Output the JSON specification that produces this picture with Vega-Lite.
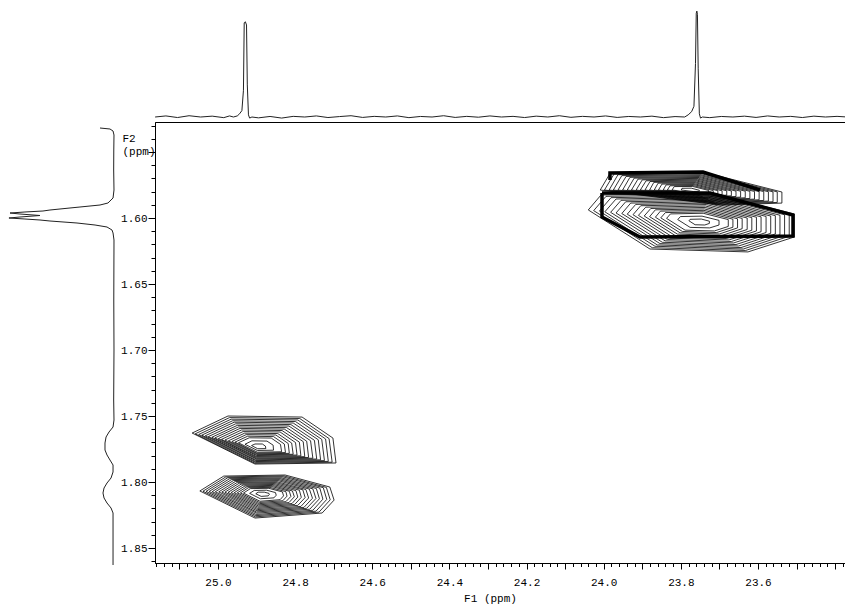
{
"$schema": "https://vega.github.io/schema/vega-lite/v6.json",
"width": 692, "height": 441,
"autosize": {"type": "none"},
"padding": {"left": 155, "top": 122, "right": 0, "bottom": 45},
"background": "white",
"config": {
  "view": {"stroke": "black", "strokeWidth": 1},
  "axis": {"domainColor": "black", "tickColor": "black", "labelColor": "black", "titleColor": "black", "labelFont": "Liberation Mono", "labelFontSize": 11, "titleFont": "Liberation Mono", "titleFontSize": 11, "titleFontWeight": "normal", "grid": false}
},
"datasets": {
"contours": [
{"c":"A1","x":25.067,"y":1.7629},{"c":"A1","x":24.974,"y":1.7500},{"c":"A1","x":24.782,"y":1.7508},{"c":"A1","x":24.702,"y":1.7667},{"c":"A1","x":24.694,"y":1.7856},{"c":"A1","x":24.904,"y":1.7864},{"c":"A1","x":25.067,"y":1.7629},
{"c":"A2","x":25.050,"y":1.7640},{"c":"A2","x":24.966,"y":1.7524},{"c":"A2","x":24.793,"y":1.7530},{"c":"A2","x":24.721,"y":1.7674},{"c":"A2","x":24.714,"y":1.7844},{"c":"A2","x":24.903,"y":1.7851},{"c":"A2","x":25.050,"y":1.7640},
{"c":"A3","x":25.033,"y":1.7650},{"c":"A3","x":24.958,"y":1.7547},{"c":"A3","x":24.805,"y":1.7553},{"c":"A3","x":24.740,"y":1.7680},{"c":"A3","x":24.734,"y":1.7832},{"c":"A3","x":24.902,"y":1.7838},{"c":"A3","x":25.033,"y":1.7650},
{"c":"A4","x":25.016,"y":1.7661},{"c":"A4","x":24.950,"y":1.7571},{"c":"A4","x":24.816,"y":1.7576},{"c":"A4","x":24.760,"y":1.7687},{"c":"A4","x":24.754,"y":1.7820},{"c":"A4","x":24.901,"y":1.7825},{"c":"A4","x":25.016,"y":1.7661},
{"c":"A5","x":24.999,"y":1.7671},{"c":"A5","x":24.943,"y":1.7594},{"c":"A5","x":24.828,"y":1.7599},{"c":"A5","x":24.779,"y":1.7694},{"c":"A5","x":24.775,"y":1.7808},{"c":"A5","x":24.901,"y":1.7812},{"c":"A5","x":24.999,"y":1.7671},
{"c":"A6","x":24.982,"y":1.7682},{"c":"A6","x":24.935,"y":1.7618},{"c":"A6","x":24.839,"y":1.7621},{"c":"A6","x":24.799,"y":1.7701},{"c":"A6","x":24.795,"y":1.7796},{"c":"A6","x":24.900,"y":1.7799},{"c":"A6","x":24.982,"y":1.7682},
{"c":"A7","x":24.964,"y":1.7693},{"c":"A7","x":24.927,"y":1.7641},{"c":"A7","x":24.850,"y":1.7644},{"c":"A7","x":24.818,"y":1.7708},{"c":"A7","x":24.815,"y":1.7783},{"c":"A7","x":24.899,"y":1.7787},{"c":"A7","x":24.964,"y":1.7693},
{"c":"A8","x":24.947,"y":1.7703},{"c":"A8","x":24.919,"y":1.7665},{"c":"A8","x":24.862,"y":1.7667},{"c":"A8","x":24.838,"y":1.7715},{"c":"A8","x":24.835,"y":1.7771},{"c":"A8","x":24.898,"y":1.7774},{"c":"A8","x":24.947,"y":1.7703},
{"c":"A9","x":24.930,"y":1.7714},{"c":"A9","x":24.912,"y":1.7688},{"c":"A9","x":24.873,"y":1.7690},{"c":"A9","x":24.857,"y":1.7721},{"c":"A9","x":24.856,"y":1.7759},{"c":"A9","x":24.898,"y":1.7761},{"c":"A9","x":24.930,"y":1.7714},
{"c":"A10","x":24.913,"y":1.7724},{"c":"A10","x":24.904,"y":1.7712},{"c":"A10","x":24.885,"y":1.7712},{"c":"A10","x":24.877,"y":1.7728},{"c":"A10","x":24.876,"y":1.7747},{"c":"A10","x":24.897,"y":1.7748},{"c":"A10","x":24.913,"y":1.7724},
{"c":"Ah1","x":25.059,"y":1.7635},{"c":"Ah1","x":24.970,"y":1.7512},{"c":"Ah1","x":24.788,"y":1.7519},{"c":"Ah1","x":24.712,"y":1.7671},{"c":"Ah1","x":24.704,"y":1.7850},{"c":"Ah1","x":24.904,"y":1.7858},{"c":"Ah1","x":25.059,"y":1.7635},
{"c":"Ah2","x":25.042,"y":1.7645},{"c":"Ah2","x":24.962,"y":1.7536},{"c":"Ah2","x":24.799,"y":1.7542},{"c":"Ah2","x":24.731,"y":1.7677},{"c":"Ah2","x":24.724,"y":1.7838},{"c":"Ah2","x":24.903,"y":1.7845},{"c":"Ah2","x":25.042,"y":1.7645},
{"c":"Ah3","x":25.025,"y":1.7656},{"c":"Ah3","x":24.954,"y":1.7559},{"c":"Ah3","x":24.811,"y":1.7565},{"c":"Ah3","x":24.750,"y":1.7684},{"c":"Ah3","x":24.744,"y":1.7826},{"c":"Ah3","x":24.902,"y":1.7832},{"c":"Ah3","x":25.025,"y":1.7656},
{"c":"Ah4","x":25.008,"y":1.7666},{"c":"Ah4","x":24.947,"y":1.7583},{"c":"Ah4","x":24.822,"y":1.7588},{"c":"Ah4","x":24.770,"y":1.7691},{"c":"Ah4","x":24.765,"y":1.7814},{"c":"Ah4","x":24.901,"y":1.7819},{"c":"Ah4","x":25.008,"y":1.7666},
{"c":"Ah5","x":24.991,"y":1.7677},{"c":"Ah5","x":24.939,"y":1.7606},{"c":"Ah5","x":24.834,"y":1.7610},{"c":"Ah5","x":24.789,"y":1.7698},{"c":"Ah5","x":24.785,"y":1.7802},{"c":"Ah5","x":24.901,"y":1.7806},{"c":"Ah5","x":24.991,"y":1.7677},
{"c":"Ah6","x":24.973,"y":1.7688},{"c":"Ah6","x":24.931,"y":1.7630},{"c":"Ah6","x":24.845,"y":1.7633},{"c":"Ah6","x":24.809,"y":1.7705},{"c":"Ah6","x":24.805,"y":1.7790},{"c":"Ah6","x":24.900,"y":1.7793},{"c":"Ah6","x":24.973,"y":1.7688},
{"c":"Ah7","x":24.956,"y":1.7698},{"c":"Ah7","x":24.923,"y":1.7653},{"c":"Ah7","x":24.856,"y":1.7656},{"c":"Ah7","x":24.828,"y":1.7712},{"c":"Ah7","x":24.825,"y":1.7777},{"c":"Ah7","x":24.899,"y":1.7781},{"c":"Ah7","x":24.956,"y":1.7698},
{"c":"B1","x":25.047,"y":1.8068},{"c":"B1","x":24.985,"y":1.7955},{"c":"B1","x":24.826,"y":1.7947},{"c":"B1","x":24.710,"y":1.8038},{"c":"B1","x":24.699,"y":1.8137},{"c":"B1","x":24.730,"y":1.8235},{"c":"B1","x":24.904,"y":1.8273},{"c":"B1","x":25.047,"y":1.8068},
{"c":"B2","x":25.031,"y":1.8071},{"c":"B2","x":24.975,"y":1.7968},{"c":"B2","x":24.832,"y":1.7961},{"c":"B2","x":24.727,"y":1.8043},{"c":"B2","x":24.718,"y":1.8132},{"c":"B2","x":24.746,"y":1.8221},{"c":"B2","x":24.902,"y":1.8255},{"c":"B2","x":25.031,"y":1.8071},
{"c":"B3","x":25.015,"y":1.8073},{"c":"B3","x":24.965,"y":1.7982},{"c":"B3","x":24.838,"y":1.7976},{"c":"B3","x":24.745,"y":1.8049},{"c":"B3","x":24.737,"y":1.8127},{"c":"B3","x":24.762,"y":1.8206},{"c":"B3","x":24.900,"y":1.8236},{"c":"B3","x":25.015,"y":1.8073},
{"c":"B4","x":24.998,"y":1.8075},{"c":"B4","x":24.955,"y":1.7996},{"c":"B4","x":24.844,"y":1.7990},{"c":"B4","x":24.763,"y":1.8054},{"c":"B4","x":24.755,"y":1.8123},{"c":"B4","x":24.777,"y":1.8192},{"c":"B4","x":24.899,"y":1.8218},{"c":"B4","x":24.998,"y":1.8075},
{"c":"B5","x":24.982,"y":1.8077},{"c":"B5","x":24.945,"y":1.8009},{"c":"B5","x":24.850,"y":1.8005},{"c":"B5","x":24.780,"y":1.8059},{"c":"B5","x":24.774,"y":1.8118},{"c":"B5","x":24.793,"y":1.8177},{"c":"B5","x":24.897,"y":1.8200},{"c":"B5","x":24.982,"y":1.8077},
{"c":"B6","x":24.966,"y":1.8080},{"c":"B6","x":24.935,"y":1.8023},{"c":"B6","x":24.856,"y":1.8019},{"c":"B6","x":24.798,"y":1.8065},{"c":"B6","x":24.793,"y":1.8114},{"c":"B6","x":24.808,"y":1.8163},{"c":"B6","x":24.895,"y":1.8182},{"c":"B6","x":24.966,"y":1.8080},
{"c":"B7","x":24.950,"y":1.8082},{"c":"B7","x":24.925,"y":1.8036},{"c":"B7","x":24.862,"y":1.8033},{"c":"B7","x":24.815,"y":1.8070},{"c":"B7","x":24.811,"y":1.8109},{"c":"B7","x":24.824,"y":1.8149},{"c":"B7","x":24.893,"y":1.8164},{"c":"B7","x":24.950,"y":1.8082},
{"c":"B8","x":24.934,"y":1.8084},{"c":"B8","x":24.916,"y":1.8050},{"c":"B8","x":24.868,"y":1.8048},{"c":"B8","x":24.833,"y":1.8075},{"c":"B8","x":24.830,"y":1.8105},{"c":"B8","x":24.839,"y":1.8134},{"c":"B8","x":24.891,"y":1.8146},{"c":"B8","x":24.934,"y":1.8084},
{"c":"B9","x":24.918,"y":1.8086},{"c":"B9","x":24.906,"y":1.8064},{"c":"B9","x":24.874,"y":1.8062},{"c":"B9","x":24.851,"y":1.8080},{"c":"B9","x":24.849,"y":1.8100},{"c":"B9","x":24.855,"y":1.8120},{"c":"B9","x":24.890,"y":1.8127},{"c":"B9","x":24.918,"y":1.8086},
{"c":"B10","x":24.902,"y":1.8089},{"c":"B10","x":24.896,"y":1.8077},{"c":"B10","x":24.880,"y":1.8077},{"c":"B10","x":24.868,"y":1.8086},{"c":"B10","x":24.867,"y":1.8096},{"c":"B10","x":24.870,"y":1.8105},{"c":"B10","x":24.888,"y":1.8109},{"c":"B10","x":24.902,"y":1.8089},
{"c":"Bh1","x":25.039,"y":1.8070},{"c":"Bh1","x":24.980,"y":1.7962},{"c":"Bh1","x":24.829,"y":1.7954},{"c":"Bh1","x":24.719,"y":1.8041},{"c":"Bh1","x":24.709,"y":1.8135},{"c":"Bh1","x":24.738,"y":1.8228},{"c":"Bh1","x":24.903,"y":1.8264},{"c":"Bh1","x":25.039,"y":1.8070},
{"c":"Bh2","x":25.023,"y":1.8072},{"c":"Bh2","x":24.970,"y":1.7975},{"c":"Bh2","x":24.835,"y":1.7969},{"c":"Bh2","x":24.736,"y":1.8046},{"c":"Bh2","x":24.728,"y":1.8130},{"c":"Bh2","x":24.754,"y":1.8214},{"c":"Bh2","x":24.901,"y":1.8246},{"c":"Bh2","x":25.023,"y":1.8072},
{"c":"Bh3","x":25.007,"y":1.8074},{"c":"Bh3","x":24.960,"y":1.7989},{"c":"Bh3","x":24.841,"y":1.7983},{"c":"Bh3","x":24.754,"y":1.8052},{"c":"Bh3","x":24.746,"y":1.8125},{"c":"Bh3","x":24.770,"y":1.8199},{"c":"Bh3","x":24.900,"y":1.8227},{"c":"Bh3","x":25.007,"y":1.8074},
{"c":"Bh4","x":24.990,"y":1.8076},{"c":"Bh4","x":24.950,"y":1.8003},{"c":"Bh4","x":24.847,"y":1.7998},{"c":"Bh4","x":24.772,"y":1.8057},{"c":"Bh4","x":24.765,"y":1.8121},{"c":"Bh4","x":24.785,"y":1.8185},{"c":"Bh4","x":24.898,"y":1.8209},{"c":"Bh4","x":24.990,"y":1.8076},
{"c":"Bh5","x":24.974,"y":1.8079},{"c":"Bh5","x":24.940,"y":1.8016},{"c":"Bh5","x":24.853,"y":1.8012},{"c":"Bh5","x":24.789,"y":1.8062},{"c":"Bh5","x":24.784,"y":1.8116},{"c":"Bh5","x":24.801,"y":1.8170},{"c":"Bh5","x":24.896,"y":1.8191},{"c":"Bh5","x":24.974,"y":1.8079},
{"c":"Bh6","x":24.958,"y":1.8081},{"c":"Bh6","x":24.930,"y":1.8030},{"c":"Bh6","x":24.859,"y":1.8026},{"c":"Bh6","x":24.807,"y":1.8068},{"c":"Bh6","x":24.802,"y":1.8112},{"c":"Bh6","x":24.816,"y":1.8156},{"c":"Bh6","x":24.894,"y":1.8173},{"c":"Bh6","x":24.958,"y":1.8081},
{"c":"Bh7","x":24.942,"y":1.8083},{"c":"Bh7","x":24.921,"y":1.8043},{"c":"Bh7","x":24.865,"y":1.8041},{"c":"Bh7","x":24.824,"y":1.8073},{"c":"Bh7","x":24.821,"y":1.8107},{"c":"Bh7","x":24.832,"y":1.8142},{"c":"Bh7","x":24.892,"y":1.8155},{"c":"Bh7","x":24.942,"y":1.8083},
{"c":"C1","x":24.009,"y":1.5788},{"c":"C1","x":23.983,"y":1.5659},{"c":"C1","x":23.742,"y":1.5652},{"c":"C1","x":23.538,"y":1.5803},{"c":"C1","x":23.538,"y":1.5887},{"c":"C1","x":23.698,"y":1.5902},{"c":"C1","x":24.009,"y":1.5788},
{"c":"C2","x":23.986,"y":1.5788},{"c":"C2","x":23.963,"y":1.5672},{"c":"C2","x":23.746,"y":1.5665},{"c":"C2","x":23.561,"y":1.5802},{"c":"C2","x":23.561,"y":1.5877},{"c":"C2","x":23.706,"y":1.5890},{"c":"C2","x":23.986,"y":1.5788},
{"c":"C3","x":23.963,"y":1.5788},{"c":"C3","x":23.942,"y":1.5685},{"c":"C3","x":23.749,"y":1.5679},{"c":"C3","x":23.585,"y":1.5800},{"c":"C3","x":23.585,"y":1.5867},{"c":"C3","x":23.714,"y":1.5879},{"c":"C3","x":23.963,"y":1.5788},
{"c":"C4","x":23.939,"y":1.5788},{"c":"C4","x":23.921,"y":1.5698},{"c":"C4","x":23.752,"y":1.5693},{"c":"C4","x":23.609,"y":1.5799},{"c":"C4","x":23.609,"y":1.5857},{"c":"C4","x":23.722,"y":1.5868},{"c":"C4","x":23.939,"y":1.5788},
{"c":"C5","x":23.916,"y":1.5788},{"c":"C5","x":23.900,"y":1.5711},{"c":"C5","x":23.756,"y":1.5706},{"c":"C5","x":23.633,"y":1.5797},{"c":"C5","x":23.633,"y":1.5847},{"c":"C5","x":23.729,"y":1.5856},{"c":"C5","x":23.916,"y":1.5788},
{"c":"C6","x":23.893,"y":1.5788},{"c":"C6","x":23.880,"y":1.5724},{"c":"C6","x":23.759,"y":1.5720},{"c":"C6","x":23.657,"y":1.5796},{"c":"C6","x":23.657,"y":1.5837},{"c":"C6","x":23.737,"y":1.5845},{"c":"C6","x":23.893,"y":1.5788},
{"c":"C7","x":23.869,"y":1.5788},{"c":"C7","x":23.859,"y":1.5736},{"c":"C7","x":23.763,"y":1.5733},{"c":"C7","x":23.681,"y":1.5794},{"c":"C7","x":23.681,"y":1.5827},{"c":"C7","x":23.745,"y":1.5833},{"c":"C7","x":23.869,"y":1.5788},
{"c":"C8","x":23.846,"y":1.5788},{"c":"C8","x":23.838,"y":1.5749},{"c":"C8","x":23.766,"y":1.5747},{"c":"C8","x":23.704,"y":1.5793},{"c":"C8","x":23.704,"y":1.5818},{"c":"C8","x":23.753,"y":1.5822},{"c":"C8","x":23.846,"y":1.5788},
{"c":"C9","x":23.823,"y":1.5788},{"c":"C9","x":23.817,"y":1.5762},{"c":"C9","x":23.769,"y":1.5761},{"c":"C9","x":23.728,"y":1.5791},{"c":"C9","x":23.728,"y":1.5808},{"c":"C9","x":23.760,"y":1.5811},{"c":"C9","x":23.823,"y":1.5788},
{"c":"C10","x":23.799,"y":1.5788},{"c":"C10","x":23.797,"y":1.5775},{"c":"C10","x":23.773,"y":1.5774},{"c":"C10","x":23.752,"y":1.5790},{"c":"C10","x":23.752,"y":1.5798},{"c":"C10","x":23.768,"y":1.5799},{"c":"C10","x":23.799,"y":1.5788},
{"c":"Ch1","x":23.998,"y":1.5788},{"c":"Ch1","x":23.973,"y":1.5666},{"c":"Ch1","x":23.744,"y":1.5659},{"c":"Ch1","x":23.550,"y":1.5802},{"c":"Ch1","x":23.550,"y":1.5882},{"c":"Ch1","x":23.702,"y":1.5896},{"c":"Ch1","x":23.998,"y":1.5788},
{"c":"Ch2","x":23.975,"y":1.5788},{"c":"Ch2","x":23.953,"y":1.5679},{"c":"Ch2","x":23.748,"y":1.5672},{"c":"Ch2","x":23.573,"y":1.5801},{"c":"Ch2","x":23.573,"y":1.5872},{"c":"Ch2","x":23.710,"y":1.5885},{"c":"Ch2","x":23.975,"y":1.5788},
{"c":"Ch3","x":23.951,"y":1.5788},{"c":"Ch3","x":23.932,"y":1.5692},{"c":"Ch3","x":23.751,"y":1.5686},{"c":"Ch3","x":23.597,"y":1.5800},{"c":"Ch3","x":23.597,"y":1.5862},{"c":"Ch3","x":23.718,"y":1.5874},{"c":"Ch3","x":23.951,"y":1.5788},
{"c":"Ch4","x":23.928,"y":1.5788},{"c":"Ch4","x":23.911,"y":1.5705},{"c":"Ch4","x":23.754,"y":1.5700},{"c":"Ch4","x":23.621,"y":1.5798},{"c":"Ch4","x":23.621,"y":1.5852},{"c":"Ch4","x":23.726,"y":1.5862},{"c":"Ch4","x":23.928,"y":1.5788},
{"c":"Ch5","x":23.905,"y":1.5788},{"c":"Ch5","x":23.890,"y":1.5718},{"c":"Ch5","x":23.758,"y":1.5713},{"c":"Ch5","x":23.645,"y":1.5797},{"c":"Ch5","x":23.645,"y":1.5842},{"c":"Ch5","x":23.733,"y":1.5851},{"c":"Ch5","x":23.905,"y":1.5788},
{"c":"Ch6","x":23.881,"y":1.5788},{"c":"Ch6","x":23.870,"y":1.5730},{"c":"Ch6","x":23.761,"y":1.5727},{"c":"Ch6","x":23.669,"y":1.5795},{"c":"Ch6","x":23.669,"y":1.5832},{"c":"Ch6","x":23.741,"y":1.5839},{"c":"Ch6","x":23.881,"y":1.5788},
{"c":"Ch7","x":23.858,"y":1.5788},{"c":"Ch7","x":23.849,"y":1.5743},{"c":"Ch7","x":23.765,"y":1.5740},{"c":"Ch7","x":23.693,"y":1.5794},{"c":"Ch7","x":23.693,"y":1.5823},{"c":"Ch7","x":23.749,"y":1.5828},{"c":"Ch7","x":23.858,"y":1.5788},
{"c":"Ch8","x":23.835,"y":1.5788},{"c":"Ch8","x":23.828,"y":1.5756},{"c":"Ch8","x":23.768,"y":1.5754},{"c":"Ch8","x":23.716,"y":1.5792},{"c":"Ch8","x":23.716,"y":1.5813},{"c":"Ch8","x":23.757,"y":1.5817},{"c":"Ch8","x":23.835,"y":1.5788},
{"c":"D1","x":24.040,"y":1.5939},{"c":"D1","x":24.007,"y":1.5826},{"c":"D1","x":23.724,"y":1.5810},{"c":"D1","x":23.506,"y":1.5969},{"c":"D1","x":23.506,"y":1.6144},{"c":"D1","x":23.626,"y":1.6257},{"c":"D1","x":23.880,"y":1.6235},{"c":"D1","x":24.040,"y":1.5939},
{"c":"D2","x":24.011,"y":1.5948},{"c":"D2","x":23.981,"y":1.5846},{"c":"D2","x":23.727,"y":1.5832},{"c":"D2","x":23.531,"y":1.5975},{"c":"D2","x":23.531,"y":1.6132},{"c":"D2","x":23.638,"y":1.6235},{"c":"D2","x":23.867,"y":1.6214},{"c":"D2","x":24.011,"y":1.5948},
{"c":"D3","x":23.982,"y":1.5957},{"c":"D3","x":23.955,"y":1.5866},{"c":"D3","x":23.729,"y":1.5854},{"c":"D3","x":23.555,"y":1.5982},{"c":"D3","x":23.555,"y":1.6121},{"c":"D3","x":23.650,"y":1.6212},{"c":"D3","x":23.854,"y":1.6194},{"c":"D3","x":23.982,"y":1.5957},
{"c":"D4","x":23.953,"y":1.5966},{"c":"D4","x":23.930,"y":1.5887},{"c":"D4","x":23.732,"y":1.5876},{"c":"D4","x":23.579,"y":1.5988},{"c":"D4","x":23.579,"y":1.6110},{"c":"D4","x":23.663,"y":1.6189},{"c":"D4","x":23.841,"y":1.6173},{"c":"D4","x":23.953,"y":1.5966},
{"c":"D5","x":23.924,"y":1.5975},{"c":"D5","x":23.904,"y":1.5907},{"c":"D5","x":23.734,"y":1.5898},{"c":"D5","x":23.604,"y":1.5994},{"c":"D5","x":23.604,"y":1.6098},{"c":"D5","x":23.675,"y":1.6166},{"c":"D5","x":23.828,"y":1.6153},{"c":"D5","x":23.924,"y":1.5975},
{"c":"D6","x":23.895,"y":1.5985},{"c":"D6","x":23.878,"y":1.5928},{"c":"D6","x":23.737,"y":1.5920},{"c":"D6","x":23.628,"y":1.6000},{"c":"D6","x":23.628,"y":1.6087},{"c":"D6","x":23.688,"y":1.6144},{"c":"D6","x":23.815,"y":1.6132},{"c":"D6","x":23.895,"y":1.5985},
{"c":"D7","x":23.866,"y":1.5994},{"c":"D7","x":23.853,"y":1.5948},{"c":"D7","x":23.740,"y":1.5942},{"c":"D7","x":23.653,"y":1.6006},{"c":"D7","x":23.653,"y":1.6075},{"c":"D7","x":23.700,"y":1.6121},{"c":"D7","x":23.802,"y":1.6112},{"c":"D7","x":23.866,"y":1.5994},
{"c":"D8","x":23.837,"y":1.6003},{"c":"D8","x":23.827,"y":1.5969},{"c":"D8","x":23.742,"y":1.5964},{"c":"D8","x":23.677,"y":1.6012},{"c":"D8","x":23.677,"y":1.6064},{"c":"D8","x":23.713,"y":1.6098},{"c":"D8","x":23.789,"y":1.6092},{"c":"D8","x":23.837,"y":1.6003},
{"c":"D9","x":23.808,"y":1.6012},{"c":"D9","x":23.801,"y":1.5989},{"c":"D9","x":23.745,"y":1.5986},{"c":"D9","x":23.701,"y":1.6018},{"c":"D9","x":23.701,"y":1.6053},{"c":"D9","x":23.725,"y":1.6075},{"c":"D9","x":23.776,"y":1.6071},{"c":"D9","x":23.808,"y":1.6012},
{"c":"D10","x":23.779,"y":1.6021},{"c":"D10","x":23.776,"y":1.6010},{"c":"D10","x":23.747,"y":1.6008},{"c":"D10","x":23.726,"y":1.6024},{"c":"D10","x":23.726,"y":1.6041},{"c":"D10","x":23.738,"y":1.6053},{"c":"D10","x":23.763,"y":1.6051},{"c":"D10","x":23.779,"y":1.6021},
{"c":"Dh1","x":24.026,"y":1.5944},{"c":"Dh1","x":23.994,"y":1.5836},{"c":"Dh1","x":23.726,"y":1.5821},{"c":"Dh1","x":23.519,"y":1.5972},{"c":"Dh1","x":23.519,"y":1.6138},{"c":"Dh1","x":23.632,"y":1.6246},{"c":"Dh1","x":23.874,"y":1.6225},{"c":"Dh1","x":24.026,"y":1.5944},
{"c":"Dh2","x":23.997,"y":1.5953},{"c":"Dh2","x":23.968,"y":1.5856},{"c":"Dh2","x":23.728,"y":1.5843},{"c":"Dh2","x":23.543,"y":1.5979},{"c":"Dh2","x":23.543,"y":1.6127},{"c":"Dh2","x":23.644,"y":1.6224},{"c":"Dh2","x":23.861,"y":1.6204},{"c":"Dh2","x":23.997,"y":1.5953},
{"c":"Dh3","x":23.968,"y":1.5962},{"c":"Dh3","x":23.943,"y":1.5877},{"c":"Dh3","x":23.731,"y":1.5865},{"c":"Dh3","x":23.567,"y":1.5985},{"c":"Dh3","x":23.567,"y":1.6116},{"c":"Dh3","x":23.657,"y":1.6201},{"c":"Dh3","x":23.848,"y":1.6184},{"c":"Dh3","x":23.968,"y":1.5962},
{"c":"Dh4","x":23.939,"y":1.5971},{"c":"Dh4","x":23.917,"y":1.5897},{"c":"Dh4","x":23.733,"y":1.5887},{"c":"Dh4","x":23.592,"y":1.5991},{"c":"Dh4","x":23.592,"y":1.6104},{"c":"Dh4","x":23.669,"y":1.6178},{"c":"Dh4","x":23.835,"y":1.6163},{"c":"Dh4","x":23.939,"y":1.5971},
{"c":"Dh5","x":23.910,"y":1.5980},{"c":"Dh5","x":23.891,"y":1.5918},{"c":"Dh5","x":23.736,"y":1.5909},{"c":"Dh5","x":23.616,"y":1.5997},{"c":"Dh5","x":23.616,"y":1.6093},{"c":"Dh5","x":23.682,"y":1.6155},{"c":"Dh5","x":23.822,"y":1.6143},{"c":"Dh5","x":23.910,"y":1.5980},
{"c":"Dh6","x":23.881,"y":1.5990},{"c":"Dh6","x":23.866,"y":1.5938},{"c":"Dh6","x":23.739,"y":1.5931},{"c":"Dh6","x":23.641,"y":1.6003},{"c":"Dh6","x":23.641,"y":1.6081},{"c":"Dh6","x":23.694,"y":1.6133},{"c":"Dh6","x":23.809,"y":1.6122},{"c":"Dh6","x":23.881,"y":1.5990},
{"c":"Dh7","x":23.852,"y":1.5999},{"c":"Dh7","x":23.840,"y":1.5959},{"c":"Dh7","x":23.741,"y":1.5953},{"c":"Dh7","x":23.665,"y":1.6009},{"c":"Dh7","x":23.665,"y":1.6070},{"c":"Dh7","x":23.707,"y":1.6110},{"c":"Dh7","x":23.796,"y":1.6102},{"c":"Dh7","x":23.852,"y":1.5999}
],
"thick": [
{"c":"T2","x":24.0044,"y":1.58106},{"c":"T2","x":23.7244,"y":1.58106},{"c":"T2","x":23.5092,"y":1.59773},{"c":"T2","x":23.5092,"y":1.61364},{"c":"T2","x":23.9059,"y":1.61439},{"c":"T2","x":24.0044,"y":1.59924},{"c":"T2","x":24.0044,"y":1.58106},
{"c":"T1","x":23.9837,"y":1.57121},{"c":"T1","x":23.9837,"y":1.56591},{"c":"T1","x":23.7426,"y":1.56515},{"c":"T1","x":23.5948,"y":1.57879}
],
"top": [
{"x":25.163,"v":0.0},{"x":25.135,"v":0.01},{"x":25.105,"v":-0.005},{"x":25.075,"v":0.012},{"x":25.045,"v":0.0},{"x":25.015,"v":0.008},{"x":24.985,"v":-0.006},{"x":24.970,"v":0.01},
{"x":24.960,"v":0.0},{"x":24.950,"v":0.01},{"x":24.944,"v":0.03},{"x":24.938,"v":0.06},{"x":24.934,"v":0.25},{"x":24.932,"v":0.88},{"x":24.929,"v":0.89},{"x":24.926,"v":0.86},{"x":24.924,"v":0.30},{"x":24.921,"v":0.02},{"x":24.918,"v":-0.01},{"x":24.912,"v":0.0},
{"x":24.895,"v":-0.008},{"x":24.865,"v":0.005},{"x":24.835,"v":-0.01},{"x":24.805,"v":0.006},{"x":24.775,"v":0.0},{"x":24.745,"v":0.01},{"x":24.715,"v":-0.005},{"x":24.685,"v":0.004},{"x":24.655,"v":0.012},{"x":24.625,"v":-0.004},{"x":24.595,"v":0.006},{"x":24.565,"v":0.0},{"x":24.535,"v":0.01},{"x":24.505,"v":-0.006},{"x":24.475,"v":0.005},{"x":24.445,"v":0.0},{"x":24.415,"v":0.012},{"x":24.385,"v":-0.004},{"x":24.355,"v":0.006},{"x":24.325,"v":-0.002},{"x":24.295,"v":0.01},{"x":24.265,"v":0.0},{"x":24.235,"v":0.006},{"x":24.205,"v":-0.005},{"x":24.175,"v":0.008},{"x":24.145,"v":0.0},{"x":24.115,"v":0.012},{"x":24.085,"v":-0.003},{"x":24.055,"v":0.006},{"x":24.025,"v":0.0},{"x":23.995,"v":0.01},{"x":23.965,"v":-0.004},{"x":23.935,"v":0.005},{"x":23.905,"v":0.0},{"x":23.875,"v":0.008},{"x":23.845,"v":-0.006},{"x":23.815,"v":0.004},
{"x":23.790,"v":0.0},{"x":23.781,"v":0.02},{"x":23.772,"v":0.05},{"x":23.766,"v":0.10},{"x":23.762,"v":0.50},{"x":23.760,"v":0.97},{"x":23.7585,"v":0.99},{"x":23.757,"v":0.96},{"x":23.755,"v":0.45},{"x":23.752,"v":0.03},{"x":23.749,"v":-0.01},{"x":23.744,"v":0.0},
{"x":23.725,"v":-0.006},{"x":23.695,"v":0.005},{"x":23.665,"v":0.0},{"x":23.635,"v":0.008},{"x":23.605,"v":-0.004},{"x":23.575,"v":0.01},{"x":23.545,"v":0.0},{"x":23.515,"v":0.006},{"x":23.485,"v":-0.005},{"x":23.455,"v":0.008},{"x":23.425,"v":0.0},{"x":23.395,"v":0.006},{"x":23.369,"v":0.0}
],
"left": [
{"y":1.53182,"v":0.132},{"y":1.53258,"v":0.038},{"y":1.53409,"v":0.009},{"y":1.53712,"v":0.0},{"y":1.54848,"v":0.002},{"y":1.56364,"v":0.003},{"y":1.57879,"v":0.0},{"y":1.58485,"v":0.009},{"y":1.58864,"v":0.057},{"y":1.59015,"v":0.132},{"y":1.59167,"v":0.321},{"y":1.59242,"v":0.415},{"y":1.59394,"v":0.604},{"y":1.59470,"v":0.670},{"y":1.59545,"v":0.840},{"y":1.59621,"v":0.981},{"y":1.59697,"v":0.887},{"y":1.59811,"v":0.698},{"y":1.59924,"v":0.887},{"y":1.60000,"v":0.991},{"y":1.60076,"v":0.840},{"y":1.60152,"v":0.698},{"y":1.60227,"v":0.604},{"y":1.60379,"v":0.349},{"y":1.60530,"v":0.179},{"y":1.60682,"v":0.066},{"y":1.60909,"v":0.019},{"y":1.61136,"v":0.009},{"y":1.61667,"v":0.0},{"y":1.66212,"v":0.002},{"y":1.70000,"v":0.0},{"y":1.73788,"v":0.003},{"y":1.75303,"v":0.0},{"y":1.75833,"v":0.009},{"y":1.76212,"v":0.047},{"y":1.76591,"v":0.075},{"y":1.77045,"v":0.085},{"y":1.77576,"v":0.085},{"y":1.77955,"v":0.066},{"y":1.78333,"v":0.038},{"y":1.78712,"v":0.009},{"y":1.79242,"v":0.009},{"y":1.79697,"v":0.028},{"y":1.80076,"v":0.066},{"y":1.80455,"v":0.094},{"y":1.80833,"v":0.104},{"y":1.81212,"v":0.094},{"y":1.81591,"v":0.066},{"y":1.81970,"v":0.028},{"y":1.82348,"v":0.009},{"y":1.83636,"v":0.009},{"y":1.86288,"v":0.009}
]
},
"layer": [
{
  "data": {"name": "contours"},
  "mark": {"type": "line", "color": "black", "strokeWidth": 0.8},
  "encoding": {
    "x": {"field": "x", "type": "quantitative", "scale": {"domain": [23.3692, 25.1633], "reverse": true, "nice": false, "zero": false},
      "axis": {"orient": "bottom", "values": [23.4,23.5,23.6,23.7,23.8,23.9,24.0,24.1,24.2,24.3,24.4,24.5,24.6,24.7,24.8,24.9,25.0,25.1], "format": ".1f", "labelExpr": "(round(datum.value*10) % 2 == 0 && datum.value > 23.5) ? datum.label : ''", "tickSize": 6, "labelPadding": 7, "title": "F1 (ppm)", "titleX": 335, "titleY": 38, "titleAlign": "center", "titleBaseline": "alphabetic"}},
    "y": {"field": "y", "type": "quantitative", "scale": {"domain": [1.52727, 1.86136], "reverse": true, "nice": false, "zero": false},
      "axis": {"orient": "left", "values": [1.55,1.6,1.65,1.7,1.75,1.8,1.85], "format": ".2f", "labelExpr": "datum.value < 1.57 ? '' : datum.label", "tickSize": 7, "labelPadding": 1, "title": ["F2", "(ppm)"], "titleAngle": 0, "titleAlign": "left", "titleBaseline": "alphabetic", "titleX": -33, "titleY": 19, "titleLineHeight": 13}},
    "detail": {"field": "c"},
    "order": {"value": null}
  }
},
{
  "data": {"name": "thick"},
  "mark": {"type": "line", "color": "black", "strokeWidth": 3.5, "strokeJoin": "miter"},
  "encoding": {
    "x": {"field": "x", "type": "quantitative", "scale": {"domain": [23.3692, 25.1633], "reverse": true, "nice": false, "zero": false},
      "axis": {"orient": "bottom", "tickCount": 90, "labels": false, "domain": false, "tickSize": 3.5, "title": null}},
    "y": {"field": "y", "type": "quantitative", "scale": {"domain": [1.52727, 1.86136], "reverse": true, "nice": false, "zero": false},
      "axis": {"orient": "left", "tickCount": 34, "labels": false, "domain": false, "tickSize": 4, "title": null}},
    "detail": {"field": "c"},
    "order": {"value": null}
  }
},
{
  "data": {"name": "top"},
  "mark": {"type": "line", "color": "#222222", "strokeWidth": 1},
  "encoding": {
    "x": {"field": "x", "type": "quantitative", "scale": {"domain": [23.3692, 25.1633], "reverse": true, "nice": false, "zero": false}, "axis": null},
    "y": {"field": "v", "type": "quantitative", "scale": {"domain": [-4.1682, -0.0467], "nice": false, "zero": false}, "axis": null}
  }
},
{
  "data": {"name": "left"},
  "mark": {"type": "line", "color": "#222222", "strokeWidth": 1},
  "encoding": {
    "y": {"field": "y", "type": "quantitative", "scale": {"domain": [1.52727, 1.86136], "reverse": true, "nice": false, "zero": false}, "axis": null},
    "x": {"field": "v", "type": "quantitative", "scale": {"domain": [-6.9151, -0.3868], "reverse": true, "nice": false, "zero": false}, "axis": null},
    "order": {"value": null}
  }
}
],
"resolve": {"scale": {"x": "independent", "y": "independent"}}
}
